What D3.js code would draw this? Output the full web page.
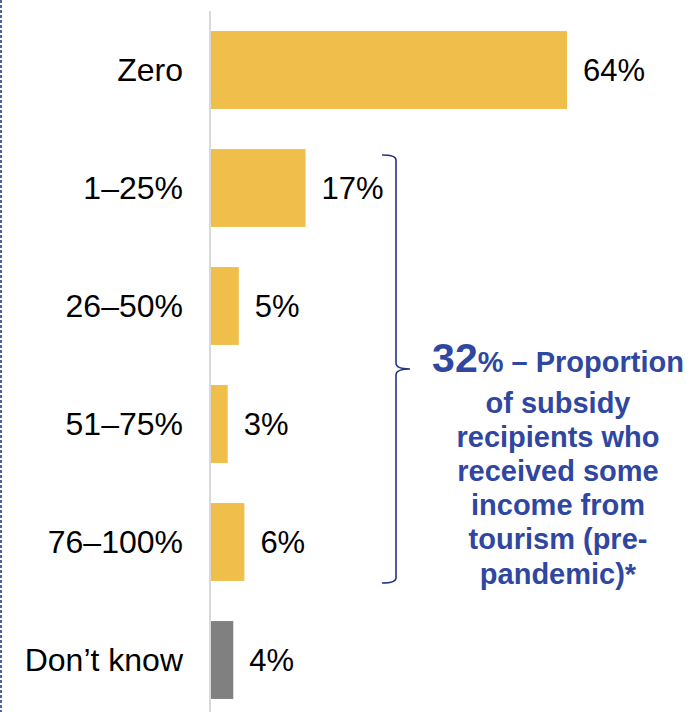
<!DOCTYPE html>
<html>
<head>
<meta charset="utf-8">
<script src="https://cdn.jsdelivr.net/npm/d3@7"></script>
<style>
  html, body { margin: 0; padding: 0; background: #ffffff; }
  svg { display: block; font-family: "Liberation Sans", Arial, sans-serif; }
</style>
</head>
<body>
<svg id="chart" width="690" height="712"></svg>
<script>
// Share of income from tourism among subsidy recipients
const categories = ["Zero", "1\u201325%", "26\u201350%", "51\u201375%", "76\u2013100%", "Don\u2019t know"];
const values = [64, 17, 5, 3, 6, 4];
const valueLabels = ["64%", "17%", "5%", "3%", "6%", "4%"];
const bracketFrom = "1\u201325%";
const bracketTo = "76\u2013100%";
const calloutValue = "32";
const calloutLines = [
  "% \u2013 Proportion",
  "of subsidy",
  "recipients who",
  "received some",
  "income from",
  "tourism (pre-",
  "pandemic)*"
];

const W = 690, H = 712;
const svg = d3.select("#chart");

const x = d3.scaleLinear().domain([0, 64]).range([211, 567]);
const y = d3.scaleBand().domain(categories).range([11, 719])
  .paddingInner(0.34).paddingOuter(0.17);

// dashed frame edge on the left
svg.append("line")
  .attr("x1", 1).attr("x2", 1).attr("y1", 0).attr("y2", H)
  .attr("stroke", "#4f5fa8").attr("stroke-width", 2)
  .attr("stroke-dasharray", "3,2");

// bars
svg.selectAll("rect.bar")
  .data(categories)
  .join("rect")
  .attr("class", "bar")
  .attr("x", x(0))
  .attr("y", d => y(d))
  .attr("width", (d, i) => x(values[i]) - x(0))
  .attr("height", y.bandwidth())
  .attr("fill", d => d === "Don\u2019t know" ? "#808080" : "#f0be4a");

// category axis line
svg.append("line")
  .attr("x1", 210).attr("x2", 210).attr("y1", 11).attr("y2", H)
  .attr("stroke", "#d9d9d9").attr("stroke-width", 2);

// category labels
svg.selectAll("text.cat")
  .data(categories)
  .join("text")
  .attr("class", "cat")
  .attr("x", 183)
  .attr("y", d => y(d) + y.bandwidth() / 2)
  .attr("dy", "0.35em")
  .attr("text-anchor", "end")
  .attr("font-size", 32)
  .attr("fill", "#000")
  .text(d => d);

// value labels
svg.selectAll("text.val")
  .data(categories)
  .join("text")
  .attr("class", "val")
  .attr("x", (d, i) => x(values[i]) + 16)
  .attr("y", d => y(d) + y.bandwidth() / 2)
  .attr("dy", "0.35em")
  .attr("font-size", 31)
  .attr("fill", "#000")
  .text((d, i) => valueLabels[i]);

// curly bracket grouping the non-zero shares
const braceTop = y(bracketFrom) + 6;
const braceBot = y(bracketTo) + y.bandwidth() + 2;
const braceMid = (braceTop + braceBot) / 2;
const bx = 396;
const p = d3.path();
p.moveTo(bx - 14, braceTop);
p.quadraticCurveTo(bx, braceTop, bx, braceTop + 5);
p.lineTo(bx, braceMid - 6);
p.quadraticCurveTo(bx, braceMid, bx + 14, braceMid);
p.quadraticCurveTo(bx, braceMid, bx, braceMid + 6);
p.lineTo(bx, braceBot - 5);
p.quadraticCurveTo(bx, braceBot, bx - 14, braceBot);
svg.append("path")
  .attr("d", p.toString())
  .attr("fill", "none")
  .attr("stroke", "#26337f")
  .attr("stroke-width", 1.6);

// callout text
const blue = "#2f47a0";
const cx = 558;
const base0 = 372, base1 = 412.5, step = 34.2;
const callout = svg.append("g").attr("font-weight", "bold").attr("fill", blue);
const first = callout.append("text")
  .attr("x", cx).attr("y", base0)
  .attr("text-anchor", "middle");
first.append("tspan").attr("font-size", 41).text(calloutValue);
first.append("tspan").attr("font-size", 29).text(calloutLines[0]);
callout.selectAll("text.line")
  .data(calloutLines.slice(1))
  .join("text")
  .attr("class", "line")
  .attr("x", cx)
  .attr("y", (d, i) => base1 + step * i)
  .attr("text-anchor", "middle")
  .attr("font-size", 29)
  .text(d => d);
</script>
</body>
</html>
